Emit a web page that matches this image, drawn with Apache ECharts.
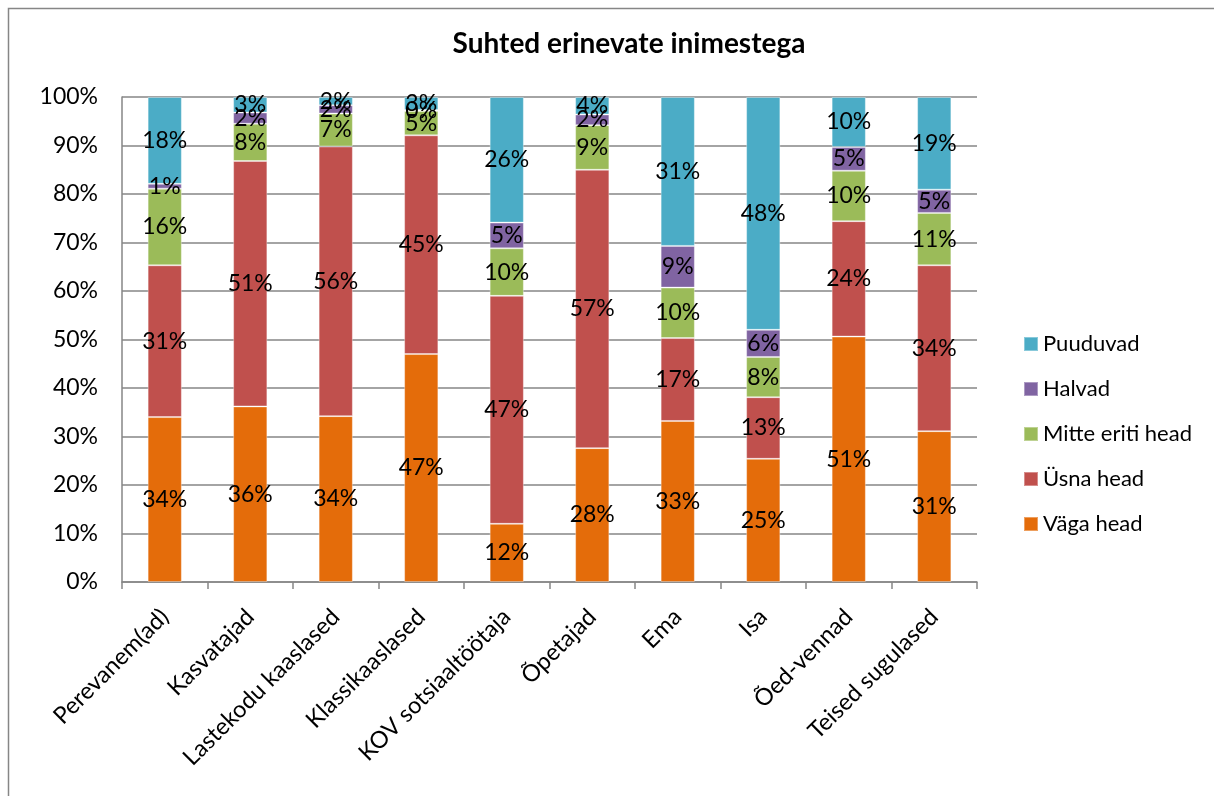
<!DOCTYPE html>
<html><head><meta charset="utf-8">
<script src="https://cdn.jsdelivr.net/npm/echarts@6/dist/echarts.min.js"></script>
<style>html,body{margin:0;padding:0;background:#fff}#c{width:1214px;height:796px}</style>
</head><body><div id="c"></div>
<script>
var categories = ['Perevanem(ad)','Kasvatajad','Lastekodu kaaslased','Klassikaaslased','KOV sotsiaaltöötaja','Õpetajad','Ema','Isa','Õed-vennad','Teised sugulased'];
var vagaHead   = [34.0, 36.2, 34.2, 47.0, 12.0, 27.6, 33.2, 25.4, 50.6, 31.1];
var usnaHead   = [31.3, 50.6, 55.6, 45.1, 47.0, 57.4, 17.1, 12.7, 23.8, 34.2];
var mitteEriti = [15.8, 7.7, 6.8, 5.0, 9.8, 9.2, 10.4, 8.3, 10.4, 10.8];
var halvad     = [1.0, 2.3, 1.7, 0.2, 5.3, 2.2, 8.6, 5.6, 4.9, 4.8];
var puuduvad   = [17.9, 3.2, 1.7, 2.7, 25.9, 3.6, 30.7, 48.0, 10.3, 19.1];
var yTicks = [0,10,20,30,40,50,60,70,80,90,100];

var FONT = 'Lato';
function mk(name, data, color){
  return {
    name: name, type: 'bar', stack: 'total', data: data, barWidth: '40%',
    itemStyle: {color: color, borderColor: 'rgba(255,255,255,0.35)', borderWidth: 1},
    label: {show: true, position: 'inside', color: '#000', fontFamily: FONT, fontSize: 23,
      formatter: function(p){ return Math.round(p.value) + '%'; }}
  };
}
var chart = echarts.init(document.getElementById('c'), null, {renderer: 'canvas'});
chart.setOption({
  animation: false,
  title: {text: 'Suhted erinevate inimestega', left: 624, top: 25, textAlign: 'center',
    textStyle: {fontFamily: FONT, fontSize: 28, fontWeight: 'bold', color: '#000'}},
  graphic: [{type: 'rect', shape: {x: 8.5, y: 8.5, width: 1400, height: 1000},
    style: {fill: 'none', stroke: '#868686', lineWidth: 1.5}, silent: true, z: -10}],
  grid: {left: 122, right: 237, top: 97, bottom: 214, containLabel: false},
  legend: {
    data: ['Puuduvad','Halvad','Mitte eriti head','Üsna head','Väga head'],
    orient: 'vertical', left: 1018, top: 328, itemGap: 23, itemWidth: 14, itemHeight: 14,
    icon: 'rect', textStyle: {fontFamily: FONT, fontSize: 22, color: '#000'}
  },
  xAxis: {
    type: 'category', data: categories,
    axisLine: {lineStyle: {color: '#868686', width: 1.5}},
    axisTick: {show: true, length: 7, lineStyle: {color: '#868686', width: 1.5}},
    axisLabel: {rotate: 45, fontFamily: FONT, fontSize: 23.5, color: '#000', margin: 31, interval: 0}
  },
  yAxis: {
    type: 'value', min: 0, max: 100, interval: 10,
    axisLine: {show: true, lineStyle: {color: '#868686', width: 1.5}},
    axisTick: {show: false},
    splitLine: {lineStyle: {color: '#868686', width: 1.5}},
    axisLabel: {fontFamily: FONT, fontSize: 23, color: '#000', margin: 24,
      formatter: function(v){ return yTicks.indexOf(v) >= 0 ? v + '%' : ''; }}
  },
  series: [
    mk('Väga head', vagaHead, '#E46C0A'),
    mk('Üsna head', usnaHead, '#C0504D'),
    mk('Mitte eriti head', mitteEriti, '#9BBB59'),
    mk('Halvad', halvad, '#8064A2'),
    mk('Puuduvad', puuduvad, '#4BACC6')
  ]
});
</script></body></html>
